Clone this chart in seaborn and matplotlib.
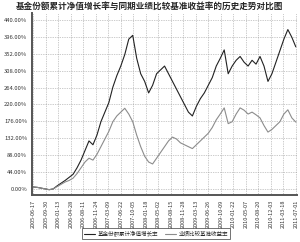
import matplotlib
matplotlib.use("Agg")
import matplotlib.pyplot as plt
import seaborn as sns
import pandas as pd
import numpy as np

title = "基金份额累计净值增长率与同期业绩比较基准收益率的历史走势对比图"
fund_label = "基金份额累计净值增长率"
bench_label = "业绩比较基准收益率"

fund = [5, 4, 2, 0, -2, 0, 8, 15, 22, 30, 38, 55, 75, 100, 125, 115, 140, 175, 200, 225,
        265, 295, 320, 350, 390, 400, 340, 300, 280, 250, 270, 300, 310, 320, 300, 280, 260,
        240, 220, 200, 190, 215, 235, 250, 270, 290, 320, 340, 362, 300, 320, 335, 345, 330,
        320, 335, 325, 345, 320, 280, 300, 330, 360, 390, 415, 395, 370]
bench = [5, 4, 2, 0, -2, 0, 6, 12, 18, 22, 28, 40, 55, 70, 80, 75, 90, 110, 130, 150,
         175, 190, 200, 210, 195, 175, 140, 110, 85, 70, 65, 80, 95, 110, 125, 135, 130,
         120, 115, 110, 105, 115, 125, 135, 145, 160, 180, 195, 211, 170, 175, 195, 211, 205,
         195, 200, 193, 185, 165, 148, 155, 165, 175, 195, 206, 185, 174]
yticks = [0, 44, 88, 132, 176, 220, 264, 308, 352, 396, 440]
xlabels = ["2005-06-17", "2005-09-30", "2006-01-13", "2006-04-28", "2006-08-11", "2006-11-24",
           "2007-03-09", "2007-06-22", "2007-10-05", "2008-01-18", "2008-05-02", "2008-08-15",
           "2008-11-28", "2009-03-13", "2009-06-26", "2009-10-09", "2010-01-22", "2010-05-07",
           "2010-08-20", "2010-12-03", "2011-03-18", "2011-07-01"]

sns.set_theme(style="white")
plt.rcParams["font.family"] = ["Noto Sans CJK SC", "DejaVu Sans"]

n = len(fund)
df = pd.DataFrame({
    "i": list(range(n)) * 2,
    "v": fund + bench,
    "s": [fund_label] * n + [bench_label] * n,
})

fig = plt.figure(figsize=(3.0, 2.42), dpi=100)
ax = fig.add_axes([0.107, 0.194, 0.883, 0.752])
sns.lineplot(data=df, x="i", y="v", hue="s", palette=["#222222", "#8c8c8c"],
             linewidth=0.8, ax=ax, legend=False)

ax.set_ylim(-16, 458)
ax.set_xlim(-0.3, n - 0.7)
ax.set_yticks(yticks)
ax.set_yticklabels([f"{t:.2f}%" for t in yticks], fontsize=4.2, color="#333333")
xt = np.linspace(0, n - 1, len(xlabels))
ax.set_xticks(xt)
ax.set_xticklabels(xlabels, rotation=90, fontsize=4.0, color="#333333")
ax.tick_params(axis="both", length=2, width=0.5, pad=1.5, color="#555555")
ax.grid(True, linestyle=(0, (1, 1.5)), linewidth=0.5, color="#999999")
ax.set_xlabel("")
ax.set_ylabel("")
for s in ["top", "right"]:
    ax.spines[s].set_visible(False)
for s in ["left", "bottom"]:
    ax.spines[s].set_color("#555555")
    ax.spines[s].set_linewidth(1.4)

fig.text(0.5, 0.972, title, ha="center", va="center", fontsize=6.2, fontweight="bold")

from matplotlib.lines import Line2D
handles = [Line2D([], [], color="#222222", lw=0.8), Line2D([], [], color="#8c8c8c", lw=0.8)]
leg = fig.legend(handles, [fund_label, bench_label], loc="center", bbox_to_anchor=(0.52, 0.035),
                 ncol=2, fontsize=4.0, frameon=True, fancybox=False, handlelength=2.0,
                 columnspacing=1.2, borderpad=0.4, handletextpad=0.4)
leg.get_frame().set_edgecolor("#333333")
leg.get_frame().set_linewidth(0.6)

fig.savefig("out.png", dpi=100)
